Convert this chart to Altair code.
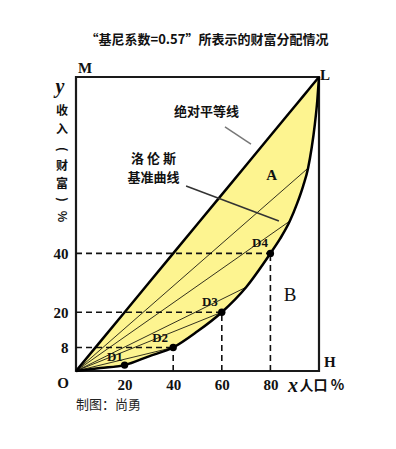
import altair as alt
import pandas as pd

# Lorenz curve (population %, income %)
curve_x = [0, 10, 20, 30, 40, 50, 60, 70, 80, 84, 88, 91, 93.5, 95.5, 97, 98.3, 99.3, 100]
curve_y = [0, 1, 2, 5, 8, 13.5, 20, 28.5, 40, 45, 51, 57, 63, 69, 76, 84, 92, 100]

# marked points D1..D4
pt_names = ["D1", "D2", "D3", "D4"]
pt_x = [20, 40, 60, 80]
pt_y = [2, 8, 20, 40]

# chords from origin to points on the curve
chord_x = [20, 40, 60, 70, 88, 95.5]
chord_y = [2, 8, 20, 28.5, 51, 69]

# tick values
x_ticks = [20, 40, 60, 80]
y_ticks = [8, 20, 40]

CJK = "Noto Sans CJK SC"
SERIF = "Liberation Serif"

curve_df = pd.DataFrame({"x": curve_x, "y": curve_y, "eq": curve_x})
pts_df = pd.DataFrame({"name": pt_names, "x": pt_x, "y": pt_y})
chord_df = pd.DataFrame({"x0": [0] * len(chord_x), "y0": [0] * len(chord_x),
                         "x": chord_x, "y": chord_y})

# dashed guide lines to the marked points (D2, D3, D4)
guide_pts = pts_df.iloc[1:]
hdash = pd.DataFrame({"x0": 0, "x1": guide_pts["x"], "y": guide_pts["y"]})
vdash = pd.DataFrame({"x": guide_pts["x"], "y0": 0, "y1": guide_pts["y"]})

xs = alt.Scale(domain=[0, 100], nice=False, zero=False)
ys = alt.Scale(domain=[0, 100], nice=False, zero=False)

xax = alt.Axis(values=x_ticks, domain=False, ticks=False, grid=False, title=None,
               labelFont=SERIF, labelFontSize=15, labelFontWeight="bold",
               labelColor="#111", labelPadding=6)
yax = alt.Axis(values=y_ticks, domain=False, ticks=False, grid=False, title=None,
               labelFont=SERIF, labelFontSize=15, labelFontWeight="bold",
               labelColor="#111", labelPadding=8)

base = alt.Chart(curve_df)

area = base.mark_area(color="#FDF490", interpolate="monotone", opacity=1).encode(
    x=alt.X("x:Q", scale=xs, axis=xax),
    y=alt.Y("y:Q", scale=ys, axis=yax),
    y2="eq:Q",
)

hd = alt.Chart(hdash).mark_rule(color="#111", strokeWidth=1.6, strokeDash=[6, 4]).encode(
    x=alt.X("x0:Q", scale=xs), x2="x1:Q", y=alt.Y("y:Q", scale=ys))
vd = alt.Chart(vdash).mark_rule(color="#111", strokeWidth=1.6, strokeDash=[6, 4]).encode(
    x=alt.X("x:Q", scale=xs), y=alt.Y("y0:Q", scale=ys), y2="y1:Q")

chords = alt.Chart(chord_df).mark_rule(color="#000", strokeWidth=0.8).encode(
    x=alt.X("x0:Q", scale=xs), y=alt.Y("y0:Q", scale=ys), x2="x:Q", y2="y:Q")

diag = base.mark_line(color="#000", strokeWidth=2.5).encode(
    x=alt.X("x:Q", scale=xs), y=alt.Y("eq:Q", scale=ys))

curve = base.mark_line(color="#000", strokeWidth=2.5, interpolate="monotone").encode(
    x=alt.X("x:Q", scale=xs), y=alt.Y("y:Q", scale=ys))

dots = alt.Chart(pts_df).mark_circle(color="#000", size=55, opacity=1).encode(
    x=alt.X("x:Q", scale=xs), y=alt.Y("y:Q", scale=ys))

dlabels = alt.Chart(pd.DataFrame({
    "t": pt_names, "x": [16, 34.6, 55.1, 75.7], "y": [4.8, 11.2, 23.5, 43.5]})).mark_text(
    font=SERIF, fontSize=13, fontWeight="bold", color="#111").encode(
    x=alt.X("x:Q", scale=xs), y=alt.Y("y:Q", scale=ys), text="t:N")

leaders = alt.Chart(pd.DataFrame({
    "x0": [61.3, 45.3], "y0": [83.0, 62.9], "x1": [72.0, 83.5], "y1": [77.2, 51.0],
    "c": ["#777", "#333"]})).mark_rule(strokeWidth=1.5).encode(
    x=alt.X("x0:Q", scale=xs), y=alt.Y("y0:Q", scale=ys), x2="x1:Q", y2="y1:Q",
    color=alt.Color("c:N", scale=None))


def texts(rows, **kw):
    df = pd.DataFrame(rows, columns=["t", "x", "y"])
    return alt.Chart(df).mark_text(**kw).encode(
        x=alt.X("x:Q", scale=xs), y=alt.Y("y:Q", scale=ys), text="t:N")


title = texts([["“基尼系数=0.57”所表示的财富分配情况", 53.9, 112.6]],
              font=CJK, fontSize=13, fontWeight="bold", color="#111")

cjk_bold = texts([
    ["绝对平等线", 53.7, 88.1],
    ["洛 伦 斯", 31.9, 72.2],
    ["基准曲线", 31.9, 65.5],
], font=CJK, fontSize=13, fontWeight="bold", color="#111")

ylab = texts([
    ["收", -5.8, 88.3],
    ["入", -5.8, 82.0],
    ["财", -5.8, 69.6],
    ["富", -5.8, 63.7],
], font=CJK, fontSize=12, fontWeight="bold", color="#111")

rotated = texts([
    ["(", -5.8, 75.4],
    [")", -5.8, 58.3],
    ["%", -5.8, 52.5],
], font=CJK, fontSize=12, fontWeight="bold", color="#111", angle=90)

xlab = texts([["人口 %", 92.0, -5.1]], font=CJK, fontSize=14, fontWeight="bold",
             color="#111", align="left")

credit = texts([["制图：尚勇", 0, -11.6]], font=CJK, fontSize=13, color="#222",
               align="left")

serif_b = texts([
    ["M", 3.7, 103.0],
    ["L", 102.5, 100.7],
    ["H", 104.5, 3.1],
    ["O", -5.3, -4.1],
    ["A", 80.5, 66.7],
], font=SERIF, fontSize=15, fontWeight="bold", color="#111")

bletter = texts([["B", 88.1, 25.9]], font=SERIF, fontSize=19, color="#111")

italics = texts([["y", -6.6, 96.6], ["x", 89.3, -5.1]], font=SERIF, fontSize=20,
                fontWeight="bold", fontStyle="italic", color="#111")

chart = alt.layer(
    area, hd, vd, chords, diag, curve, dots, dlabels, leaders,
    title, cjk_bold, ylab, rotated, xlab, credit, serif_b, bletter, italics,
).properties(
    width=243, height=294,
    autosize=alt.AutoSizeParams(type="none"),
    padding={"left": 68, "top": 69, "right": 60, "bottom": 60},
    background="white",
).configure_view(stroke="#1a1a1a", strokeWidth=2.2)

chart.save("out.html", embed_options={"renderer": "svg", "actions": False})
